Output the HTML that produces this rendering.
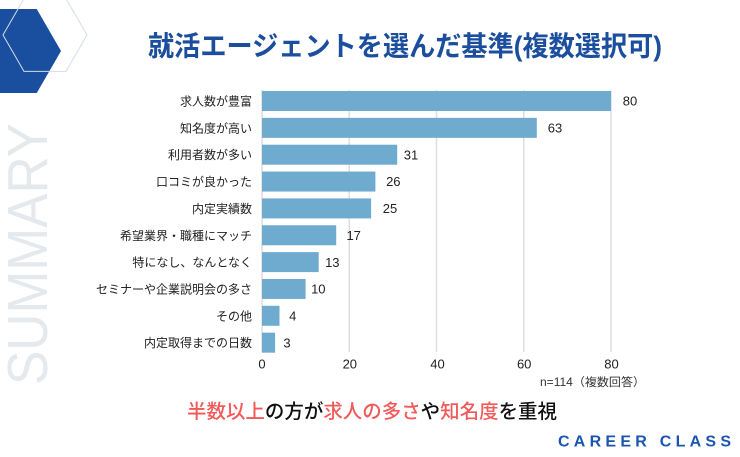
<!DOCTYPE html>
<html>
<head>
<meta charset="utf-8">
<style>
  html, body { margin:0; padding:0; background:#ffffff; }
  svg { display:block; }
  text { font-family: "Liberation Sans", "Noto Sans CJK JP", sans-serif; }
</style>
</head>
<body>
<svg width="740" height="457" viewBox="0 0 740 457" xmlns="http://www.w3.org/2000/svg">
  <rect width="740" height="457" fill="#ffffff"/>

  <!-- decorative hexagons -->
  <polygon points="61,51 36.75,93 -11.75,93 -36,51 -11.75,9 36.75,9" fill="#1a4f9f"/>
  <polygon points="87,35 66,71.4 24,71.4 3,35 24,-1.4 66,-1.4" fill="none" stroke="#d3deea" stroke-width="1"/>

  <!-- SUMMARY vertical watermark -->
  <text transform="translate(47,385) rotate(-90)" font-size="57" fill="#e4e9ed" textLength="262" lengthAdjust="spacingAndGlyphs">SUMMARY</text>

  <!-- title -->
  <text x="148" y="55.5" font-size="27.5" font-weight="bold" fill="#1b4f9e" textLength="514" lengthAdjust="spacingAndGlyphs">就活エージェントを選んだ基準(複数選択可)</text>

  <!-- gridlines -->
  <g stroke="#dedede" stroke-width="1.5">
    <line x1="262" y1="90" x2="262" y2="352"/>
    <line x1="349.25" y1="90" x2="349.25" y2="352"/>
    <line x1="436.5" y1="90" x2="436.5" y2="352"/>
    <line x1="523.75" y1="90" x2="523.75" y2="352"/>
    <line x1="611" y1="90" x2="611" y2="352"/>
  </g>

  <!-- bars -->
  <g fill="#6fabcf">
    <rect x="262" y="91" width="349" height="20"/>
    <rect x="262" y="117.85" width="274.8" height="20"/>
    <rect x="262" y="144.7" width="135.2" height="20"/>
    <rect x="262" y="171.55" width="113.4" height="20"/>
    <rect x="262" y="198.4" width="109.1" height="20"/>
    <rect x="262" y="225.25" width="74.2" height="20"/>
    <rect x="262" y="252.1" width="56.7" height="20"/>
    <rect x="262" y="278.95" width="43.6" height="20"/>
    <rect x="262" y="305.8" width="17.5" height="20"/>
    <rect x="262" y="332.65" width="13.1" height="20"/>
  </g>

  <!-- category labels -->
  <g font-size="12" fill="#222222" text-anchor="end">
    <text x="252" y="105.5">求人数が豊富</text>
    <text x="252" y="132.35">知名度が高い</text>
    <text x="252" y="159.2">利用者数が多い</text>
    <text x="252" y="186.05">口コミが良かった</text>
    <text x="252" y="212.9">内定実績数</text>
    <text x="252" y="239.75">希望業界・職種にマッチ</text>
    <text x="252" y="266.6">特になし、なんとなく</text>
    <text x="252" y="293.45">セミナーや企業説明会の多さ</text>
    <text x="252" y="320.3">その他</text>
    <text x="252" y="347.15">内定取得までの日数</text>
  </g>

  <!-- value labels -->
  <g font-size="13" fill="#222222" text-anchor="middle">
    <text x="630" y="105.7">80</text>
    <text x="555" y="132.5">63</text>
    <text x="411" y="159.4">31</text>
    <text x="393.3" y="186.2">26</text>
    <text x="390" y="213.1">25</text>
    <text x="353.7" y="239.9">17</text>
    <text x="332.3" y="266.8">13</text>
    <text x="318.3" y="293.6">10</text>
    <text x="292.7" y="320.5">4</text>
    <text x="287" y="347.3">3</text>
  </g>

  <!-- x tick labels -->
  <g font-size="13" fill="#222222" text-anchor="middle">
    <text x="262" y="368.7">0</text>
    <text x="349.8" y="368.7">20</text>
    <text x="437.5" y="368.7">40</text>
    <text x="524.2" y="368.7">60</text>
    <text x="611.5" y="368.7">80</text>
  </g>

  <!-- n note -->
  <text x="540" y="386" font-size="11.5" fill="#333333" textLength="105" lengthAdjust="spacingAndGlyphs">n=114（複数回答）</text>

  <!-- subtitle -->
  <text x="187" y="418" font-size="19.5" font-weight="500" fill="#111111" textLength="370" lengthAdjust="spacingAndGlyphs"><tspan fill="#f25a5a">半数以上</tspan>の方が<tspan fill="#f25a5a">求人の多さ</tspan>や<tspan fill="#f25a5a">知名度</tspan>を重視</text>

  <!-- brand -->
  <text x="558" y="446.5" font-size="16" font-weight="bold" fill="#1a55b0" textLength="173" lengthAdjust="spacing">CAREER CLASS</text>
</svg>
</body>
</html>
